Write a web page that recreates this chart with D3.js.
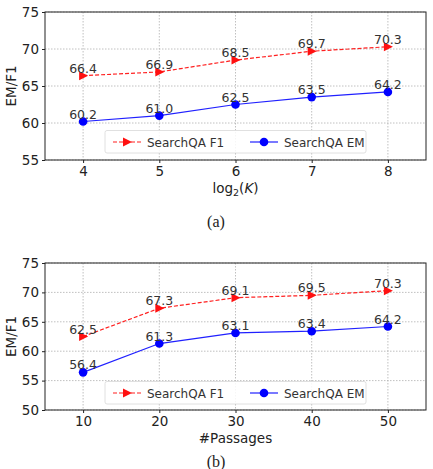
<!DOCTYPE html>
<html><head><meta charset="utf-8">
<script src="https://cdn.jsdelivr.net/npm/d3@7"></script>
<style>body{margin:0;background:#fff}svg{display:block}</style>
</head><body>
<svg id="c" width="433" height="469"></svg>
<script>
const xA = [4,5,6,7,8];
const f1A = [66.4,66.9,68.5,69.7,70.3];
const emA = [60.2,61.0,62.5,63.5,64.2];
const yTicksA = [55,60,65,70,75];
const xB = [10,20,30,40,50];
const f1B = [62.5,67.3,69.1,69.5,70.3];
const emB = [56.4,61.3,63.1,63.4,64.2];
const yTicksB = [50,55,60,65,70,75];
const seriesNames = ["SearchQA F1","SearchQA EM"];

const svg = d3.select("#c");
const font = "'DejaVu Sans', sans-serif";

function panel(cfg){
  const g = svg.append("g");
  const x = d3.scaleLinear().domain(cfg.xd).range([45,426]);
  const y = d3.scaleLinear().domain(cfg.yd).range([cfg.bottom,cfg.top]);
  g.selectAll(".gx").data(cfg.xs).join("line").attr("x1",d=>x(d)).attr("x2",d=>x(d))
    .attr("y1",cfg.top).attr("y2",cfg.bottom).attr("stroke","#b0b0b0").attr("stroke-width",0.8).attr("stroke-dasharray","1.5,1.5");
  g.selectAll(".gy").data(cfg.yt).join("line").attr("y1",d=>y(d)).attr("y2",d=>y(d))
    .attr("x1",45).attr("x2",426).attr("stroke","#b0b0b0").attr("stroke-width",0.8).attr("stroke-dasharray","1.5,1.5");
  const ax = g.append("g").attr("transform",`translate(0,${cfg.bottom})`)
    .call(d3.axisBottom(x).tickValues(cfg.xs).tickFormat(d3.format("d")).tickSize(3).tickPadding(3));
  const ay = g.append("g").attr("transform",`translate(45,0)`)
    .call(d3.axisLeft(y).tickValues(cfg.yt).tickFormat(d3.format("d")).tickSize(3).tickPadding(3));
  [ax,ay].forEach(a=>{a.select(".domain").remove();
    a.selectAll("line").attr("stroke","#222");
    a.selectAll("text").attr("font-family",font).attr("font-size",13.5).attr("fill","#222");});
  g.append("rect").attr("x",45).attr("y",cfg.top).attr("width",381).attr("height",cfg.bottom-cfg.top)
    .attr("fill","none").attr("stroke","#222").attr("stroke-width",1);
  const line = d3.line().x(d=>x(d[0])).y(d=>y(d[1]));
  const f1 = cfg.xs.map((v,i)=>[v,cfg.f1[i]]);
  const em = cfg.xs.map((v,i)=>[v,cfg.em[i]]);
  g.append("path").datum(f1).attr("d",line).attr("fill","none").attr("stroke","#ff2020").attr("stroke-width",1.2).attr("stroke-dasharray","4,2");
  g.append("path").datum(em).attr("d",line).attr("fill","none").attr("stroke","#2020ff").attr("stroke-width",1.2);
  const tri = "M-4,-4.5L5,0L-4,4.5Z";
  g.selectAll(".t").data(f1).join("path").attr("d",tri).attr("fill","#ff1010")
    .attr("transform",d=>`translate(${x(d[0])},${y(d[1])})`);
  g.selectAll(".c").data(em).join("circle").attr("cx",d=>x(d[0])).attr("cy",d=>y(d[1])).attr("r",4.3).attr("fill","#0000ff");
  [f1,em].forEach(s=>{
    g.selectAll(null).data(s).join("text").attr("x",d=>x(d[0])).attr("y",d=>y(d[1])-3)
      .attr("text-anchor","middle").attr("font-family",font).attr("font-size",12.5).attr("fill","#333")
      .text(d=>d[1].toFixed(1));
  });
  g.append("text").attr("transform",`translate(16,${(cfg.top+cfg.bottom)/2}) rotate(-90)`)
    .attr("text-anchor","middle").attr("font-family",font).attr("font-size",13.5).attr("fill","#222").text("EM/F1");
  const xl = g.append("text").attr("x",235.5).attr("y",cfg.bottom+33).attr("text-anchor","middle")
    .attr("font-family",font).attr("font-size",13.5).attr("fill","#222");
  if(cfg.log){
    xl.append("tspan").text("log");
    xl.append("tspan").attr("font-size",9.5).attr("dy",3).text("2");
    xl.append("tspan").attr("dy",-3).text("(");
    xl.append("tspan").attr("font-style","italic").text("K");
    xl.append("tspan").text(")");
  } else xl.text(cfg.xlabel);
  const lg = g.append("g").attr("transform",`translate(105,${cfg.legY})`);
  lg.append("rect").attr("width",261).attr("height",22.5).attr("rx",2).attr("fill","#fff").attr("fill-opacity",0.85)
    .attr("stroke","#d8d8d8").attr("stroke-width",0.8);
  lg.append("line").attr("x1",8).attr("x2",36).attr("y1",11.5).attr("y2",11.5).attr("stroke","#ff2020").attr("stroke-width",1.2).attr("stroke-dasharray","4,2");
  lg.append("path").attr("d",tri).attr("fill","#ff1010").attr("transform","translate(22,11.5)");
  lg.append("text").attr("x",42).attr("y",16).attr("font-family",font).attr("font-size",12).attr("fill","#333").text(seriesNames[0]);
  lg.append("line").attr("x1",145).attr("x2",173).attr("y1",11.5).attr("y2",11.5).attr("stroke","#2020ff").attr("stroke-width",1.2);
  lg.append("circle").attr("cx",159).attr("cy",11.5).attr("r",4.3).attr("fill","#0000ff");
  lg.append("text").attr("x",179).attr("y",16).attr("font-family",font).attr("font-size",12).attr("fill","#333").text(seriesNames[1]);
  svg.append("text").attr("x",216).attr("y",cfg.capY).attr("text-anchor","middle")
    .attr("font-family","'Liberation Serif', serif").attr("font-size",16).attr("fill","#222").text(cfg.cap);
}
panel({xd:[3.5,8.5],yd:[55,75],xs:xA,f1:f1A,em:emA,yt:yTicksA,top:12,bottom:160,log:true,legY:130.5,cap:"(a)",capY:227});
panel({xd:[5,55],yd:[50,75],xs:xB,f1:f1B,em:emB,yt:yTicksB,top:263,bottom:410,xlabel:"#Passages",legY:381.5,cap:"(b)",capY:467});
</script>
</body></html>
